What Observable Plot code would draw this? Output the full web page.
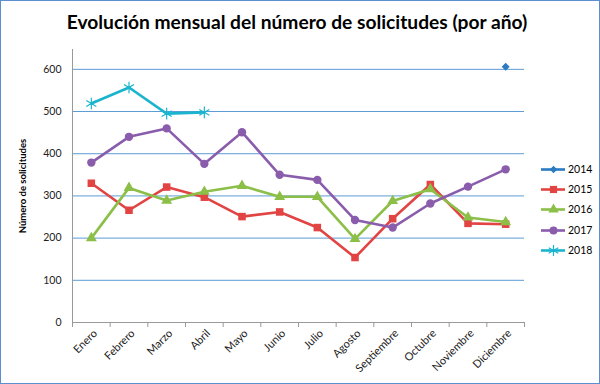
<!DOCTYPE html>
<html>
<head>
<meta charset="utf-8">
<script src="https://cdn.jsdelivr.net/npm/d3@7"></script>
<script src="https://cdn.jsdelivr.net/npm/@observablehq/plot@0.6"></script>
<style>
  html, body { margin: 0; padding: 0; background: #fff; }
  #frame { position: relative; width: 598px; height: 382px; border: 1px solid #5b8fcf; overflow: hidden; font-family: Lato, "Open Sans", sans-serif; }
  #title { position: absolute; left: 0; top: 9px; width: 592px; text-align: center; font-weight: bold; font-size: 19.2px; color: #000; font-family: Lato, "Open Sans", sans-serif; }
  #chart { position: absolute; left: -1px; top: 39px; }
  #legend { position: absolute; left: 539px; top: 158px; }
  .item { display: flex; align-items: center; height: 20.2px; font-size: 10.5px; color: #000; }
  .item svg { margin-right: 2px; }
</style>
</head>
<body>
<div id="frame">
  <div id="title">Evolución mensual del número de solicitudes (por año)</div>
  <div id="chart"></div>
  <div id="legend"></div>
</div>
<script>
const months = ["Enero","Febrero","Marzo","Abril","Mayo","Junio","Julio","Agosto","Septiembre","Octubre","Noviembre","Diciembre"];
const years = ["2014","2015","2016","2017","2018"];
const v2014 = [null,null,null,null,null,null,null,null,null,null,null,606];
const v2015 = [330,266,321,297,251,262,225,154,246,327,235,233];
const v2016 = [200,319,289,310,324,298,298,198,288,316,249,238];
const v2017 = [379,440,460,376,451,350,338,243,225,282,322,363];
const v2018 = [519,557,495,498,null,null,null,null,null,null,null,null];
const yTicks = [0,100,200,300,400,500,600];
const yAxisTitle = "Número de solicitudes";

const seriesValues = [v2014, v2015, v2016, v2017, v2018];
const colors = ["#2a7bc2","#e14443","#8cbf48","#8a5dac","#1ab4cf"];
const symbols = ["diamond2","square2","triangle2","circle","asterisk"];
const sizes = [3.6, 4.8, 5.2, 4.2, 5.5];

const data = [];
years.forEach((yr, s) => {
  seriesValues[s].forEach((v, i) => {
    if (v != null) data.push({year: yr, m: i, value: v});
  });
});

const boundaries = d3.range(-0.5, 12, 1);

const marks = [
  Plot.gridY(yTicks.slice(1), {stroke: "#5b9bd5", strokeOpacity: 1, strokeWidth: 1}),
  Plot.axisY(yTicks, {tickSize: 0, tickPadding: 11, fontSize: 10.5, label: null, fill: "#222"}),
  Plot.ruleX([-0.5], {stroke: "#999", strokeWidth: 1}),
  Plot.ruleY([0], {stroke: "#999", strokeWidth: 1}),
  Plot.axisX(boundaries, {tickSize: 5, tickFormat: () => "", stroke: "#999", label: null}),
  Plot.axisX(d3.range(12), {tickSize: 0, tickPadding: 9, tickRotate: -45, tickFormat: i => months[i], fontSize: 11, label: null, dx: 4, fill: "#222"}),
  Plot.text([yAxisTitle], {frameAnchor: "left", textAnchor: "middle", rotate: -90, dx: -50, fontWeight: "bold", fontSize: 9.5, fill: "#000"})
];
years.forEach((yr, s) => {
  const d = data.filter(r => r.year === yr);
  marks.push(Plot.line(d, {x: "m", y: "value", stroke: colors[s], strokeWidth: 2.6}));
  marks.push(Plot.dot(d, {x: "m", y: "value", symbol: () => symbols[s], fill: colors[s], stroke: colors[s], r: sizes[s], strokeWidth: symbols[s] === "asterisk" ? 1.2 : 0}));
});

const chart = Plot.plot({
  width: 536,
  height: 344,
  marginLeft: 72,
  marginRight: 12,
  marginTop: 9,
  marginBottom: 62,
  style: {fontFamily: "Lato, 'Open Sans', sans-serif", background: "transparent"},
  x: {type: "linear", domain: [-0.5, 11.5], axis: null},
  y: {domain: [0, 647], axis: null},
  symbol: {type: "identity"},
  marks
});
document.getElementById("chart").appendChild(chart);

// legend
const legend = document.getElementById("legend");
years.forEach((yr, s) => {
  const item = document.createElement("div");
  item.className = "item";
  const sw = Plot.plot({
    width: 26, height: 14, margin: 0,
    x: {domain: [0, 1], range: [1, 25], axis: null},
    y: {domain: [0, 1], range: [13, 1], axis: null},
    symbol: {type: "identity"},
    style: {background: "transparent"},
    marks: [
      Plot.ruleY([0.5], {x1: 0, x2: 1, stroke: colors[s], strokeWidth: 2.6}),
      Plot.dot([0.5], {x: d => d, y: 0.5, symbol: () => symbols[s], fill: colors[s], stroke: colors[s], r: sizes[s] * 0.95, strokeWidth: symbols[s] === "asterisk" ? 1.2 : 0})
    ]
  });
  item.appendChild(sw);
  const t = document.createElement("span");
  t.textContent = yr;
  item.appendChild(t);
  legend.appendChild(item);
});
</script>
</body>
</html>
